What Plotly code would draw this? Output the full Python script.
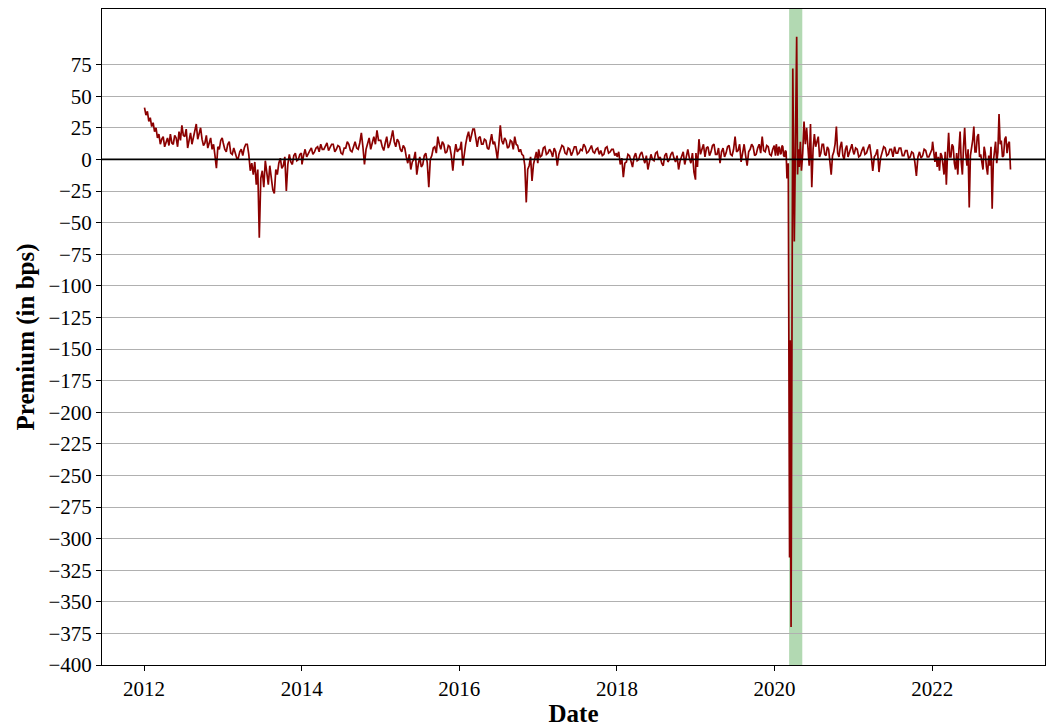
import pandas as pd
import plotly.graph_objects as go

# Premium readings (bps), listed in time order within each calendar year
prem_2012 = [41, 35, 38, 30, 33, 26, 29, 22, 25, 17, 20, 12, 16, 18, 10, 14, 17, 11,
             20, 13, 12, 19, 17, 10, 22, 15, 27, 19, 18, 24, 9, 15, 21, 12, 17, 22,
             28, 16, 20, 25, 16, 11, 13, 19, 9, 14, 17, 8, 12, 3, -7, 10, 8, 15, 17]
prem_2013 = [13, 8, 6, 12, 14, 5, 4, 9, 5, 1, 1, 6, 8, 3, 9, 12, 12, 4, -9, -3, -12,
             -2, -20, -8, -62, -15, -9, -22, -1, -10, -20, -5, -17, -24, -27, -8, -12,
             -3, 1, -7, -5, 2, -25, -4, 4, -2, -4, 3, 5, -1, 0, 4, 5]
prem_2014 = [-4, 3, 8, 2, 5, 7, 9, 4, 6, 9, 10, 6, 12, 8, 8, 11, 13, 7, 9, 12, 12, 6,
             8, 11, 10, 5, 4, 9, 9, 14, 12, 7, 6, 10, 14, 9, 8, 13, 21, 10, -4, 8, 12,
             17, 8, 14, 18, 12, 23, 15, 15]
prem_2015 = [15, 10, 7, 13, 18, 9, 12, 17, 23, 14, 10, 16, 14, 8, 6, 11, 9, 2, -3, 4,
             -8, -2, 0, 6, -12, -4, 2, -6, -4, 3, 5, -3, -22, 0, 3, 9, 10, 5, 18, 12,
             8, 14, 12, 5, 6, 11, 10, 3, -9, 4, 12, 6, 8]
prem_2016 = [8, 14, -5, 6, 12, 18, 22, 14, 18, 24, 24, 16, 10, 17, 18, 12, 12, 16, 15,
             9, 8, 14, 20, 12, 14, 8, 0, 12, 27, 15, 12, 17, 15, 9, 10, 15, 14, 8, 18,
             12, 11, 6, 8, 4, 3, -5, -34, -8, -5, 2, -17, -4, 2, 6, -3]
prem_2017 = [8, 2, 3, 9, 10, 4, 5, 8, 6, 2, 9, 6, -5, 4, 7, 11, 10, 5, 4, 9, 8, 3, 6,
             10, 10, 4, 5, 8, 7, 12, 10, 5, 6, 9, 11, 6, 5, 8, 9, 4, 7, 3, 4, 9, 10, 5,
             6, 8, 8, 3, 5]
prem_2018 = [2, 6, -4, 1, -14, -3, -2, 4, 3, -2, -6, 2, 5, -1, 0, 4, 6, 1, -3, 3, -8,
             -2, 4, 0, -1, 5, 6, 0, 2, -3, -5, 3, 5, -2, 0, 4, 6, 1, -2, 3, -8, -1, 3,
             6, -4, 2, 8, 1, -3, 5, -10, -16]
prem_2019 = [5, -6, 16, 4, 8, 12, 2, 9, 10, 3, 6, 11, 12, 4, 4, 9, -3, 6, 9, 2, 5, 10,
             11, 4, 3, 8, 18, 6, 7, 12, -2, 5, 12, 3, -5, 6, 8, 12, 10, 3, 4, 9, 12, 5,
             18, 7, 6, 11, 10, 4, 3, 8, 11]
prem_2020_early = [8, 3, 12, 6, 3, 10, 9, 4, 5, 11, 10, 3, 2, 7, 6]
crisis_dates = ["2020-02-28", "2020-03-05", "2020-03-11", "2020-03-14", "2020-03-18",
                "2020-03-26", "2020-04-02", "2020-04-13", "2020-04-17", "2020-04-21",
                "2020-04-25", "2020-04-30", "2020-05-05"]
crisis_prem = [-15, -3, -315, -143, -370, 72, -65, 97, -12, 8, -6, 14, -9]
prem_2020_late = [5, 30, 12, 25, 10, -5, 28, -22, 8, 20, 10, 15, 18, 2, 5, 12, 12, 4,
                  3, 10, 8, -2, -12, 3, 6, 12, 26, 5, 2, 10, 14, 3, 0, 8, 11, 2, 5, 9,
                  12, 6]
prem_2021 = [4, 9, 8, 2, 3, 7, 10, 4, 5, 9, 12, 3, -9, 2, 4, 8, -10, 1, 6, 10, 9, 3,
             4, 8, 8, 2, 10, 5, 5, 9, 9, 3, 3, 7, 7, 1, 2, 6, 5, -2, -13, 2, 6, 1, 3, 8,
             7, 2, 2, 6, 8]
prem_2022 = [14, 4, -2, 6, -6, 2, -9, 5, 3, -4, -12, 6, -20, 4, 21, 2, 2, 12, 10, -3,
             -8, 5, -12, 8, 22, -2, -12, 10, 25, 5, -5, 8, -38, 3, 8, 15, 26, 6, 6, 18,
             20, 2, 4, -3, -8, 10, 5, -6, -12, 3, -5, 10, -39, -2, 8, 14, -3, 6, 36,
             12, 15, 2, 3, 16, 18, 5, 12, 14, -8]

stress_start, stress_end = "2020-03-09", "2020-05-09"
y_ticks = list(range(-400, 100, 25))
x_ticks = ["2012-01-01", "2014-01-01", "2016-01-01", "2018-01-01", "2020-01-01",
           "2022-01-01"]
x_tick_text = ["2012", "2014", "2016", "2018", "2020", "2022"]


def spread(values, start, end):
    """Place a list of readings evenly between two dates."""
    return pd.Series(values, index=pd.date_range(start, end, periods=len(values)))


pieces = [
    spread(prem_2012, "2012-01-03", "2012-12-28"),
    spread(prem_2013, "2013-01-02", "2013-12-30"),
    spread(prem_2014, "2014-01-02", "2014-12-30"),
    spread(prem_2015, "2015-01-02", "2015-12-30"),
    spread(prem_2016, "2016-01-04", "2016-12-30"),
    spread(prem_2017, "2017-01-03", "2017-12-29"),
    spread(prem_2018, "2018-01-02", "2018-12-31"),
    spread(prem_2019, "2019-01-02", "2019-12-31"),
    spread(prem_2020_early, "2020-01-02", "2020-02-24"),
    pd.Series(crisis_prem, index=pd.to_datetime(crisis_dates)),
    spread(prem_2020_late, "2020-05-11", "2020-12-31"),
    spread(prem_2021, "2021-01-04", "2021-12-31"),
    spread(prem_2022, "2022-01-03", "2022-12-30"),
]
series = pd.concat(pieces).sort_index()

serif = "Liberation Serif, Times New Roman, serif"

fig = go.Figure()
fig.add_trace(go.Scatter(
    x=series.index, y=series.values, mode="lines",
    line=dict(color="#8B0000", width=1.7), showlegend=False,
))

# shaded stress window
fig.add_vrect(x0=stress_start, x1=stress_end, fillcolor="rgba(0,128,0,0.3)",
              line_width=0, layer="below")
# zero reference line
fig.add_hline(y=0, line=dict(color="black", width=1.6), layer="above")

fig.update_layout(
    width=1056, height=727,
    margin=dict(l=102, r=11, t=8, b=56),
    paper_bgcolor="white", plot_bgcolor="white",
    font=dict(family=serif, size=21, color="black"),
)
fig.update_xaxes(
    type="date", range=["2011-06-20", "2023-06-08"],
    tickvals=x_ticks, ticktext=x_tick_text,
    showgrid=False, zeroline=False,
    showline=True, linecolor="black", linewidth=1, mirror=True,
    ticks="outside", ticklen=5, tickcolor="black",
    title=dict(text="<b>Date</b>", font=dict(family=serif, size=25), standoff=0),
)
fig.update_yaxes(
    range=[-400, 119], tickvals=y_ticks,
    showgrid=True, gridcolor="#b0b0b0", gridwidth=0.8, zeroline=False,
    showline=True, linecolor="black", linewidth=1, mirror=True,
    ticks="outside", ticklen=5, tickcolor="black",
    title=dict(text="<b>Premium (in bps)</b>", font=dict(family=serif, size=25),
               standoff=6),
)

fig.write_html("out.html")
